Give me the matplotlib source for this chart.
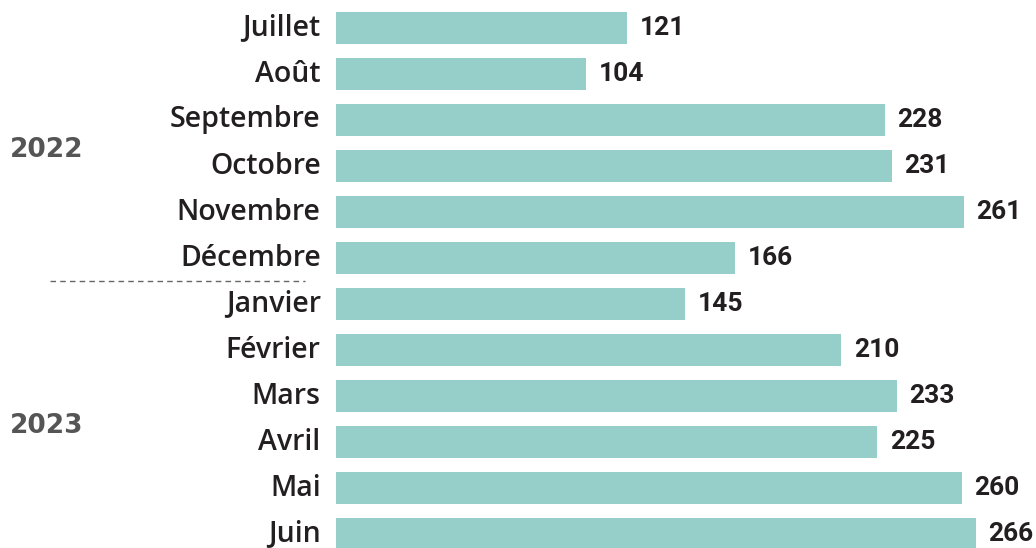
import matplotlib
matplotlib.use("Agg")
import matplotlib.pyplot as plt

months = ["Juillet", "Août", "Septembre", "Octobre", "Novembre", "Décembre",
          "Janvier", "Février", "Mars", "Avril", "Mai", "Juin"]
values = [121, 104, 228, 231, 261, 166, 145, 210, 233, 225, 260, 266]
years = ["2022", "2023"]
year_rows = [2.65, 8.65]  # vertical centre of each year label, in row units

BAR_COLOR = "#96CFCA"
TEXT_COLOR = "#231F20"
YEAR_COLOR = "#555555"

W, H, DPI = 1036, 548, 100
fig = plt.figure(figsize=(W / DPI, H / DPI), dpi=DPI)
ax = fig.add_axes([336 / W, 0, 1 - 336 / W, 1])

rows = list(range(len(months)))
ax.barh(rows, values, height=0.7, color=BAR_COLOR, left=0)
ax.set_xlim(0, 700 / 2.406)
ax.set_ylim((H - 28) / 46, -28 / 46)
ax.axis("off")

label_font = ["Open Sans", "DejaVu Sans"]
value_font = ["Liberation Sans Narrow", "Roboto", "DejaVu Sans"]

for r, (m, v) in enumerate(zip(months, values)):
    ax.annotate(m, xy=(0, r), xytext=(-11, 0), textcoords="offset points",
                ha="right", va="center", fontsize=20.5, fontweight="semibold",
                family=label_font, color=TEXT_COLOR, annotation_clip=False)
    ax.annotate(str(v), xy=(v, r), xytext=(9, 0), textcoords="offset points",
                ha="left", va="center", fontsize=19, fontweight="bold",
                family=value_font, color=TEXT_COLOR, annotation_clip=False)

for y, yr in zip(years, year_rows):
    ax.annotate(y, xy=(0, yr), xytext=(-326 * 0.72, 0), textcoords="offset points",
                ha="left", va="center", fontsize=19, fontweight="bold",
                family=["DejaVu Sans"], color=YEAR_COLOR, annotation_clip=False)

# separator between the two years
sep_y = 1 - 281 / H
fig.add_artist(plt.Line2D([50 / W, 305 / W], [sep_y, sep_y], color="#666666",
                          lw=1, linestyle=(0, (4, 3)), transform=fig.transFigure))

fig.savefig("out.png", dpi=DPI)
